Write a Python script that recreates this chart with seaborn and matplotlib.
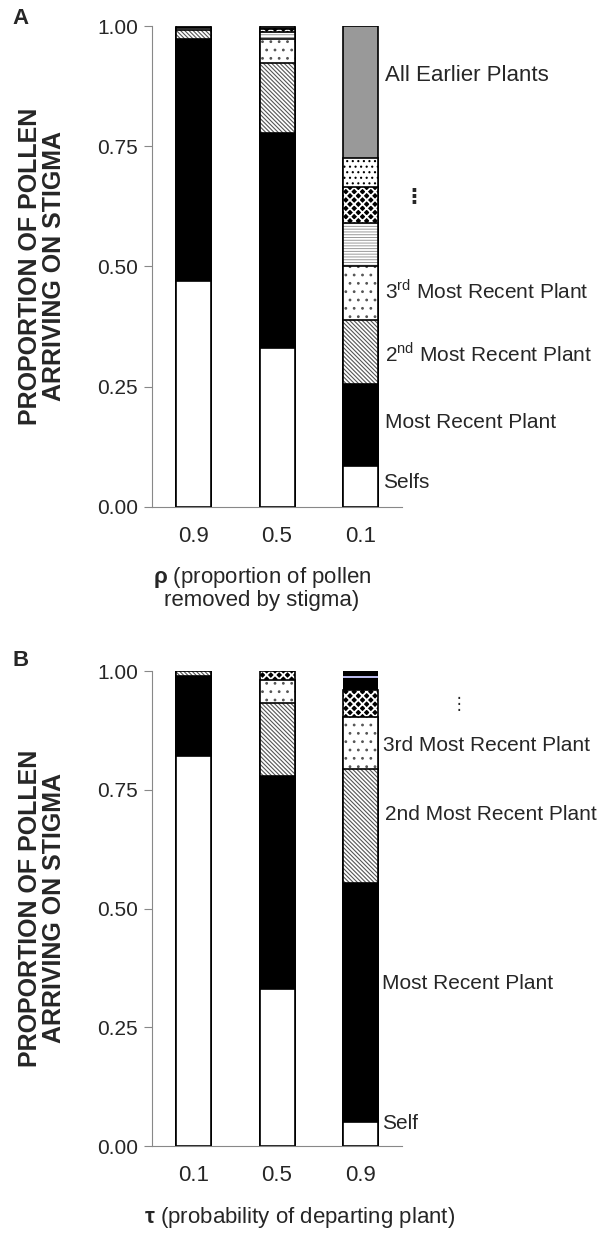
import numpy as np
import pandas as pd
import matplotlib
matplotlib.use("Agg")
import matplotlib.pyplot as plt
import seaborn as sns

sns.set_style("white")
plt.rcParams["font.family"] = ["Liberation Sans", "DejaVu Sans"]
plt.rcParams["mathtext.fontset"] = "custom"
plt.rcParams["mathtext.rm"] = "Liberation Sans"
plt.rcParams["mathtext.bf"] = "Liberation Sans:bold"
plt.rcParams["hatch.linewidth"] = 0.8

# Panel A: rho (proportion of pollen removed by stigma)
rho_cats = ["0.9", "0.5", "0.1"]
a_selfs = [0.470, 0.330, 0.085]
a_recent1 = [0.503, 0.448, 0.171]
a_recent2 = [0.019, 0.145, 0.133]
a_recent3 = [0.004, 0.050, 0.112]
a_recent4 = [0.000, 0.015, 0.089]
a_recent5 = [0.000, 0.005, 0.075]
a_recent6 = [0.000, 0.003, 0.061]
a_earlier = [0.004, 0.004, 0.274]

# Panel B: tau (probability of departing plant)
tau_cats = ["0.1", "0.5", "0.9"]
b_self = [0.821, 0.330, 0.050]
b_recent1 = [0.168, 0.450, 0.503]
b_recent2 = [0.011, 0.153, 0.241]
b_recent3 = [0.000, 0.048, 0.109]
b_recent4 = [0.000, 0.019, 0.057]
b_recent5 = [0.000, 0.000, 0.025]
b_recent6 = [0.000, 0.000, 0.005]
b_earlier = [0.000, 0.000, 0.010]

# fill styles: (face, hatch, hatch colour, hatch width, outline)
white = ("white", None, "white", 0.8, True)
solid_black = ("black", None, "black", 0.8, True)
plain_black = ("black", None, "black", 0.8, False)
diag = ("white", "\\" * 8, "#555555", 0.8, True)
dots = ("white", "..", "#555555", 0.8, True)
wavy = ("white", "-" * 6, "#999999", 0.7, True)
diamond = ("black", "xxxx", "white", 1.3, True)
dense = ("white", "...", "black", 0.8, True)
grey = ("#999999", None, "#999999", 0.8, True)
lavender = ("#b9b9ea", None, "#b9b9ea", 0.8, False)

a_layers = [a_selfs, a_recent1, a_recent2, a_recent3, a_recent4, a_recent5, a_recent6, a_earlier]
a_styles = [white, solid_black, diag, dots, wavy, diamond, dense, grey]
b_layers = [b_self, b_recent1, b_recent2, b_recent3, b_recent4, b_recent5, b_recent6, b_earlier]
b_styles = [white, solid_black, diag, dots, diamond, plain_black, lavender, plain_black]


def draw_stack(ax, cats, layers, styles):
    tops = np.cumsum(np.array(layers), axis=0)
    # draw from the top layer down so lower segments cover upper bars
    for i in range(len(layers) - 1, -1, -1):
        face, hatch, hcol, hlw, outline = styles[i]
        df = pd.DataFrame({"cat": cats, "top": tops[i]})
        n_before = len(ax.patches)
        sns.barplot(data=df, x="cat", y="top", order=cats, ax=ax, color=face,
                    saturation=1, width=0.42, errorbar=None, hatch=hatch,
                    edgecolor=hcol, linewidth=0)
        for p in ax.patches[n_before:]:
            if hasattr(p, "set_hatch_linewidth"):
                p.set_hatch_linewidth(hlw)
        if outline:
            sns.barplot(data=df, x="cat", y="top", order=cats, ax=ax, color="black",
                        fill=False, saturation=1, width=0.42, errorbar=None,
                        linewidth=1.2)


def style_axes(ax, cats):
    ax.set_xlim(-0.5, 2.5)
    ax.set_ylim(0, 1.0)
    ax.set_xlabel("")
    ax.set_ylabel("")
    ax.set_yticks([0, 0.25, 0.5, 0.75, 1.0])
    ax.set_yticklabels(["0.00", "0.25", "0.50", "0.75", "1.00"], fontsize=15)
    ax.set_xticks([0, 1, 2])
    ax.set_xticklabels(cats, fontsize=16)
    ax.set_xticks([-0.5, 0.5, 1.5, 2.5], minor=True)
    ax.tick_params(axis="x", which="major", length=0, pad=14)
    ax.tick_params(axis="x", which="minor", length=6, color="#888888", width=0.8)
    ax.tick_params(axis="y", length=6, color="#888888", width=0.8, pad=4, left=True)
    for s in ["top", "right"]:
        ax.spines[s].set_visible(False)
    for s in ["left", "bottom"]:
        ax.spines[s].set_color("#888888")
        ax.spines[s].set_linewidth(0.8)


fig = plt.figure(figsize=(6.01, 12.37), dpi=100)
W, H = 601, 1237
ax_a = fig.add_axes([152 / W, 1 - 507 / H, 250 / W, 481 / H])
ax_b = fig.add_axes([152 / W, 1 - 1146 / H, 250 / W, 475 / H])

draw_stack(ax_a, rho_cats, a_layers, a_styles)
draw_stack(ax_b, tau_cats, b_layers, b_styles)
style_axes(ax_a, rho_cats)
style_axes(ax_b, tau_cats)

ylab = "PROPORTION OF POLLEN\nARRIVING ON STIGMA"
fig.text(42 / W, 1 - 266 / H, ylab, rotation=90, ha="center", va="center",
         fontsize=18, fontweight="bold", linespacing=1.05, multialignment="center")
fig.text(42 / W, 1 - 908 / H, ylab, rotation=90, ha="center", va="center",
         fontsize=18, fontweight="bold", linespacing=1.05, multialignment="center")

fig.text(12 / W, 1 - 18 / H, "A", fontsize=16, fontweight="bold", va="center")
fig.text(12 / W, 1 - 660 / H, "B", fontsize=16, fontweight="bold", va="center")

fig.text(262 / W, 1 - 588 / H,
         "$\\mathbf{\\rho}$ (proportion of pollen\nremoved by stigma)",
         ha="center", va="center", fontsize=16, linespacing=1.05,
         multialignment="center")
fig.text(300 / W, 1 - 1217 / H, "$\\mathbf{\\tau}$ (probability of departing plant)",
         ha="center", va="center", fontsize=16)

lab_kw = dict(fontsize=15, va="center", ha="left", clip_on=False)
ax_a.text(2.30, 0.898, "All Earlier Plants", fontsize=16, va="center", ha="left")
ax_a.text(2.64, 0.645, "\u22ee", fontsize=15, fontweight="bold", va="center", ha="center")
ax_a.text(2.30, 0.451, "3$^{\\mathrm{rd}}$ Most Recent Plant", **lab_kw)
ax_a.text(2.30, 0.320, "2$^{\\mathrm{nd}}$ Most Recent Plant", **lab_kw)
ax_a.text(2.30, 0.175, "Most Recent Plant", **lab_kw)
ax_a.text(2.27, 0.050, "Selfs", **lab_kw)

ax_b.text(3.18, 0.930, "\u22ee", fontsize=12, va="center", ha="center")
ax_b.text(2.27, 0.844, "3rd Most Recent Plant", **lab_kw)
ax_b.text(2.29, 0.697, "2nd Most Recent Plant", **lab_kw)
ax_b.text(2.26, 0.343, "Most Recent Plant", **lab_kw)
ax_b.text(2.26, 0.048, "Self", **lab_kw)

fig.savefig("out.png", dpi=100)
